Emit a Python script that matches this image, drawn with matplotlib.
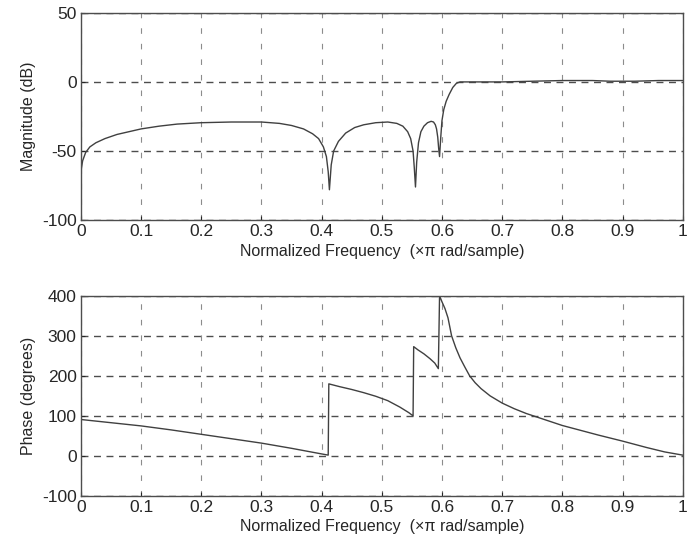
import numpy as np
import matplotlib.pyplot as plt

plt.rcParams['font.family'] = ['Liberation Sans', 'DejaVu Sans']
plt.rcParams['axes.unicode_minus'] = False

# magnitude response (dB)
mag_f = [0.0, 0.003, 0.008, 0.015, 0.025, 0.04, 0.06, 0.08, 0.1, 0.13, 0.16, 0.2, 0.25, 0.3,
         0.33, 0.35, 0.37, 0.385, 0.395, 0.403, 0.408, 0.411, 0.413, 0.416, 0.42, 0.428,
         0.44, 0.455, 0.47, 0.49, 0.51, 0.525, 0.535, 0.543, 0.548, 0.552, 0.554, 0.556,
         0.558, 0.561, 0.565, 0.57, 0.576, 0.582, 0.586, 0.589, 0.591, 0.593, 0.5945,
         0.596, 0.598, 0.6, 0.603, 0.607, 0.612, 0.618, 0.624, 0.63, 0.7, 0.75, 0.8, 0.85,
         0.88, 0.92, 0.96, 1.0]
mag_db = [-65, -57, -51, -47, -44, -41, -38, -36, -34, -32, -30.5, -29.5, -29, -29,
          -30, -31.5, -34, -37.5, -41, -47, -54, -65, -78, -60, -50, -43,
          -37, -33, -31, -29.5, -29, -30, -32, -36, -41, -50, -62, -76,
          -58, -44, -36, -32, -29.5, -28.5, -29, -31, -34, -40, -48,
          -54, -40, -28, -20, -14, -9, -4, -1, 0, 0, 0.5, 1, 1,
          0.5, 0.5, 1, 1]

# phase response (degrees), wrapped as in the picture
ph_f = [0.0, 0.05, 0.1, 0.15, 0.2, 0.25, 0.3, 0.35, 0.4, 0.411,
        0.412, 0.43, 0.45, 0.47, 0.49, 0.51, 0.53, 0.545, 0.552,
        0.553, 0.56, 0.57, 0.58, 0.588, 0.594,
        0.596, 0.6, 0.605, 0.61, 0.616, 0.623, 0.63, 0.638, 0.646, 0.655, 0.665,
        0.68, 0.7, 0.72, 0.74, 0.76, 0.78, 0.8, 0.83, 0.86, 0.9, 0.94, 0.97, 1.0]
ph_deg = [91, 83, 75, 65, 54, 43, 32, 19, 5, 2,
          180, 173, 166, 158, 149, 138, 122, 108, 100,
          273, 265, 255, 243, 232, 218,
          400, 385, 368, 345, 300, 270, 245, 222, 200, 183, 168,
          150, 132, 118, 106, 96, 86, 76, 64, 52, 37, 21, 10, 2]

fig = plt.figure(figsize=(6.91, 5.56), dpi=100)
ax1 = fig.add_axes([0.117, 0.604, 0.871, 0.373])
ax2 = fig.add_axes([0.117, 0.108, 0.871, 0.360])

xticks = np.round(np.arange(0, 1.01, 0.1), 1)
xlabels = ['0'] + ['%.1f' % t for t in xticks[1:-1]] + ['1']

for ax in (ax1, ax2):
    ax.set_xlim(0, 1)
    ax.set_xticks(xticks)
    ax.set_xticklabels(xlabels)
    ax.tick_params(direction='in', length=3, labelsize=12.5, colors='0.15', pad=3)
    ax.xaxis.grid(True, linestyle=(0, (5, 9)), color='0.55', linewidth=0.8)
    ax.yaxis.grid(True, linestyle=(0, (5, 4)), color='0.3', linewidth=1.0)
    for s in ax.spines.values():
        s.set_color('0.3')
        s.set_linewidth(1.0)
    ax.set_xlabel('Normalized Frequency  (\u00d7\u03c0 rad/sample)', fontsize=11.5, color='0.15',
                  labelpad=3)

ax1.plot(mag_f, mag_db, color='0.25', linewidth=1.0)
ax1.set_ylim(-100, 50)
ax1.set_yticks([-100, -50, 0, 50])
ax1.set_ylabel('Magnitude (dB)', fontsize=11.5, color='0.15')

ax2.plot(ph_f, ph_deg, color='0.25', linewidth=1.0)
ax2.set_ylim(-100, 400)
ax2.set_yticks([-100, 0, 100, 200, 300, 400])
ax2.set_ylabel('Phase (degrees)', fontsize=11.5, color='0.15')

fig.savefig('out.png', dpi=100)
